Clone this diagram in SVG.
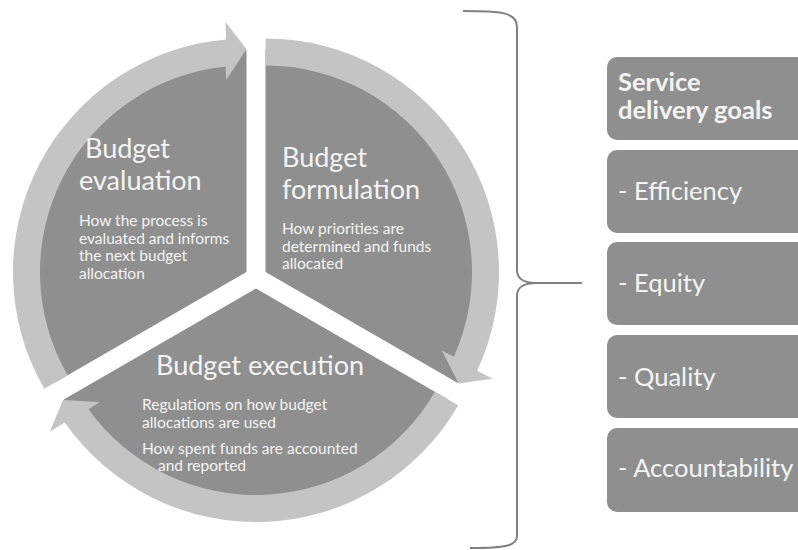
<svg xmlns="http://www.w3.org/2000/svg" width="798" height="550" viewBox="0 0 798 550">
<style>
.pie{fill:#8f8f8f}
.ring{fill:#c4c4c4}
.box{fill:#8f8f8f}
.t{font-family:Lato,"Open Sans","DejaVu Sans",sans-serif;fill:#f4f4f4}
.h{font-size:27px}
.b{font-size:15.5px}
.bx{font-size:25.5px}
.bold{font-weight:bold}
.brace{fill:none;stroke:#808080;stroke-width:2}
</style>
<rect width="798" height="550" fill="#ffffff"/>
<g id="evaluation">
<path class="pie" d="M246.47 272 L54.21 383 A222 222 0 0 1 246.47 50 Z"/>
<path class="ring" d="M44.25 388.75 A233.5 233.5 0 0 1 226.12 39.39 L225.47 21.88 L246.47 49 L226.3 80.06 L225.6 66.56 A206.5 206.5 0 0 0 67.64 375.25 Z"/>
<text class="t h" x="85" y="158">Budget</text>
<text class="t h" x="79" y="190">evaluation</text>
<text class="t b" x="79" y="226">How the process is</text>
<text class="t b" x="79" y="243.5">evaluated and informs</text>
<text class="t b" x="79" y="261">the next budget</text>
<text class="t b" x="79" y="278.5">allocation</text>
</g>
<g id="formulation">
<path class="pie" d="M265.53 272 L265.53 50 A222 222 0 0 1 457.79 383 Z"/>
<path class="ring" d="M265.53 38.5 A233.5 233.5 0 0 1 477.15 370.68 L492.64 378.87 L458.65 383.5 L441.85 350.5 L453.88 356.65 A206.5 206.5 0 0 0 265.53 65.5 Z"/>
<text class="t h" x="282" y="167">Budget</text>
<text class="t h" x="282" y="199">formulation</text>
<text class="t b" x="282" y="234">How priorities are</text>
<text class="t b" x="282" y="251.5">determined and funds</text>
<text class="t b" x="282" y="269">allocated</text>
</g>
<g id="execution">
<path class="pie" d="M256 288.5 L448.26 399.5 A222 222 0 0 1 63.74 399.5 Z"/>
<path class="ring" d="M458.22 405.25 A233.5 233.5 0 0 1 64.73 422.43 L49.89 431.75 L62.88 400 L99.86 401.94 L88.52 409.29 A206.5 206.5 0 0 0 434.83 391.75 Z"/>
<text class="t h" x="156" y="375">Budget execution</text>
<text class="t b" x="142" y="410">Regulations on how budget</text>
<text class="t b" x="142" y="427.5">allocations are used</text>
<text class="t b" x="142" y="453.5">How spent funds are accounted</text>
<text class="t b" x="158" y="471">and reported</text>
</g>
<g id="connectors">
<path class="brace" d="M463 11 C500 11 517 12 517 27 L517 270 C517 279 523 283 537 283 L582 283 M537 283 C523 283 517 287 517 296 L517 536 C517 546 505 548 470 548"/>
</g>
<g id="goals">
<rect class="box" x="607" y="57" width="210" height="83" rx="10"/>
<text class="t bx bold" x="618" y="91">Service</text>
<text class="t bx bold" x="618" y="119">delivery goals</text>
</g>
<g id="efficiency">
<rect class="box" x="607" y="150" width="210" height="83" rx="10"/>
<text class="t bx" x="618" y="200">- Efficiency</text>
</g>
<g id="equity">
<rect class="box" x="607" y="242" width="210" height="83" rx="10"/>
<text class="t bx" x="618" y="292">- Equity</text>
</g>
<g id="quality">
<rect class="box" x="607" y="335" width="210" height="83" rx="10"/>
<text class="t bx" x="618" y="386">- Quality</text>
</g>
<g id="accountability">
<rect class="box" x="607" y="428" width="210" height="84" rx="10"/>
<text class="t bx" x="618" y="477">- Accountability</text>
</g>
</svg>
